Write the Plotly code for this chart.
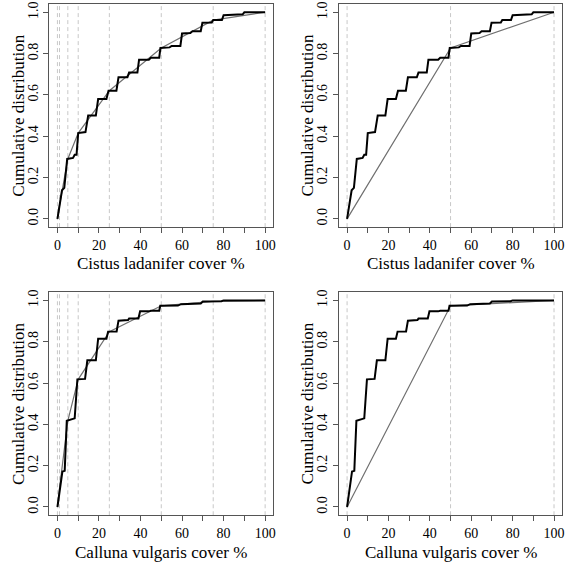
import plotly.graph_objects as go

# ---- data ----
cistus_x = [0, 2.2, 3.3, 4.7, 7.5, 8.3, 9.2, 10, 13.5, 14.8, 18.5, 19.6, 23.6, 24.6, 28.4, 29.4,
            33.7, 34.5, 38.5, 39.3, 44, 45, 49, 49.6, 54, 55, 59.2, 60, 64, 65, 69, 69.8,
            74.3, 75, 79.2, 80, 89.2, 90, 100]
cistus_F = [0, 0.138, 0.15, 0.29, 0.295, 0.31, 0.31, 0.415, 0.42, 0.50, 0.50, 0.58, 0.58, 0.62, 0.62, 0.685,
            0.685, 0.708, 0.708, 0.77, 0.77, 0.78, 0.78, 0.827, 0.83, 0.837, 0.837, 0.897, 0.90, 0.908, 0.908, 0.949,
            0.95, 0.962, 0.962, 0.986, 0.99, 1.0, 1.0]

calluna_x = [0, 2.4, 3.5, 4.5, 8.3, 9.6, 13.3, 14.4, 18.5, 19.6, 23.6, 24.4, 28.5, 29.4, 34, 34.5,
             39, 39.8, 44, 45, 49, 49.5, 58, 59.5, 69, 70, 79, 80, 100]
calluna_F = [0, 0.172, 0.175, 0.417, 0.429, 0.618, 0.62, 0.71, 0.71, 0.815, 0.815, 0.849, 0.85, 0.902, 0.905, 0.912,
             0.912, 0.947, 0.947, 0.95, 0.95, 0.974, 0.975, 0.982, 0.985, 0.995, 0.996, 1.0, 1.0]

# class boundaries and cumulative values at them
fine_breaks = [0, 1, 5, 10, 25, 50, 75, 100]
cistus_fine_F = [0, 0.065, 0.29, 0.415, 0.62, 0.827, 0.962, 1.0]
calluna_fine_F = [0, 0.09, 0.417, 0.618, 0.849, 0.974, 0.995, 1.0]
coarse_breaks = [0, 50, 100]
cistus_coarse_F = [0, 0.827, 1.0]
calluna_coarse_F = [0, 0.974, 1.0]

x_tickvals = list(range(0, 101, 10))
x_ticktext = [str(v) if v % 20 == 0 else "" for v in x_tickvals]
y_tickvals = [0, 0.2, 0.4, 0.6, 0.8, 1.0]

panels = [
    # (ecdf x, ecdf F, breaks, break F, xtitle)
    (cistus_x, cistus_F, fine_breaks, cistus_fine_F, "Cistus ladanifer cover %"),
    (cistus_x, cistus_F, coarse_breaks, cistus_coarse_F, "Cistus ladanifer cover %"),
    (calluna_x, calluna_F, fine_breaks, calluna_fine_F, "Calluna vulgaris cover %"),
    (calluna_x, calluna_F, coarse_breaks, calluna_coarse_F, "Calluna vulgaris cover %"),
]

W, H = 567, 563
# pixel boxes (left, right, top, bottom)
boxes = [
    (49.3, 274.4, 1.0, 225.3),
    (340.0, 564.3, 1.0, 225.3),
    (49.3, 274.4, 290.7, 515.0),
    (340.0, 564.3, 290.7, 515.0),
]

FONT = "Liberation Serif"
fig = go.Figure()
layout = dict(width=W, height=H, margin=dict(l=0, r=0, t=0, b=0),
              paper_bgcolor="white", plot_bgcolor="white", showlegend=False,
              font=dict(family=FONT, color="black"))
shapes = []
annotations = []

for i, ((ex, eF, br, bF, xt), (l, r, t, b)) in enumerate(zip(panels, boxes)):
    n = i + 1
    xa = "x" if n == 1 else f"x{n}"
    ya = "y" if n == 1 else f"y{n}"
    xkey = "xaxis" if n == 1 else f"xaxis{n}"
    ykey = "yaxis" if n == 1 else f"yaxis{n}"
    axis_common = dict(showgrid=False, zeroline=False, showline=True, mirror=True,
                       linecolor="#555555", linewidth=1, ticks="outside", ticklen=5,
                       tickcolor="#555555", tickfont=dict(family=FONT, size=14, color="black"))
    layout[xkey] = dict(domain=[l / W, r / W], range=[-4, 104], anchor=ya,
                        tickmode="array", tickvals=x_tickvals, ticktext=x_ticktext, **axis_common)
    layout[ykey] = dict(domain=[1 - b / H, 1 - t / H], range=[-0.04, 1.04], anchor=xa,
                        tickmode="array", tickvals=y_tickvals, tickformat=".1f", tickangle=-90,
                        **axis_common)
    for v in br:
        shapes.append(dict(type="line", xref=xa, yref=f"{ya} domain", x0=v, x1=v, y0=0, y1=1,
                           line=dict(color="#c8c8c8", width=1, dash="4px,3px"), layer="below"))
    fig.add_trace(go.Scatter(x=br, y=bF, mode="lines", xaxis=xa, yaxis=ya,
                             line=dict(color="#707070", width=1.2), hoverinfo="skip"))
    fig.add_trace(go.Scatter(x=ex, y=eF, mode="lines", xaxis=xa, yaxis=ya,
                             line=dict(color="black", width=2), hoverinfo="skip"))
    annotations.append(dict(text=xt, xref="paper", yref="paper", x=(l + r) / 2 / W,
                            y=1 - (b + 37) / H, showarrow=False, xanchor="center", yanchor="middle",
                            font=dict(family=FONT, size=17, color="black")))
    annotations.append(dict(text="Cumulative distribution", xref="paper", yref="paper",
                            x=(l - 31) / W, y=1 - (t + b) / 2 / H, textangle=-90, showarrow=False,
                            xanchor="center", yanchor="middle",
                            font=dict(family=FONT, size=17, color="black")))

layout["shapes"] = shapes
layout["annotations"] = annotations
fig.update_layout(**layout)
fig.write_html("out.html", config={"displayModeBar": False},
               post_script="document.body.style.margin='0';document.body.style.overflow='hidden';")
